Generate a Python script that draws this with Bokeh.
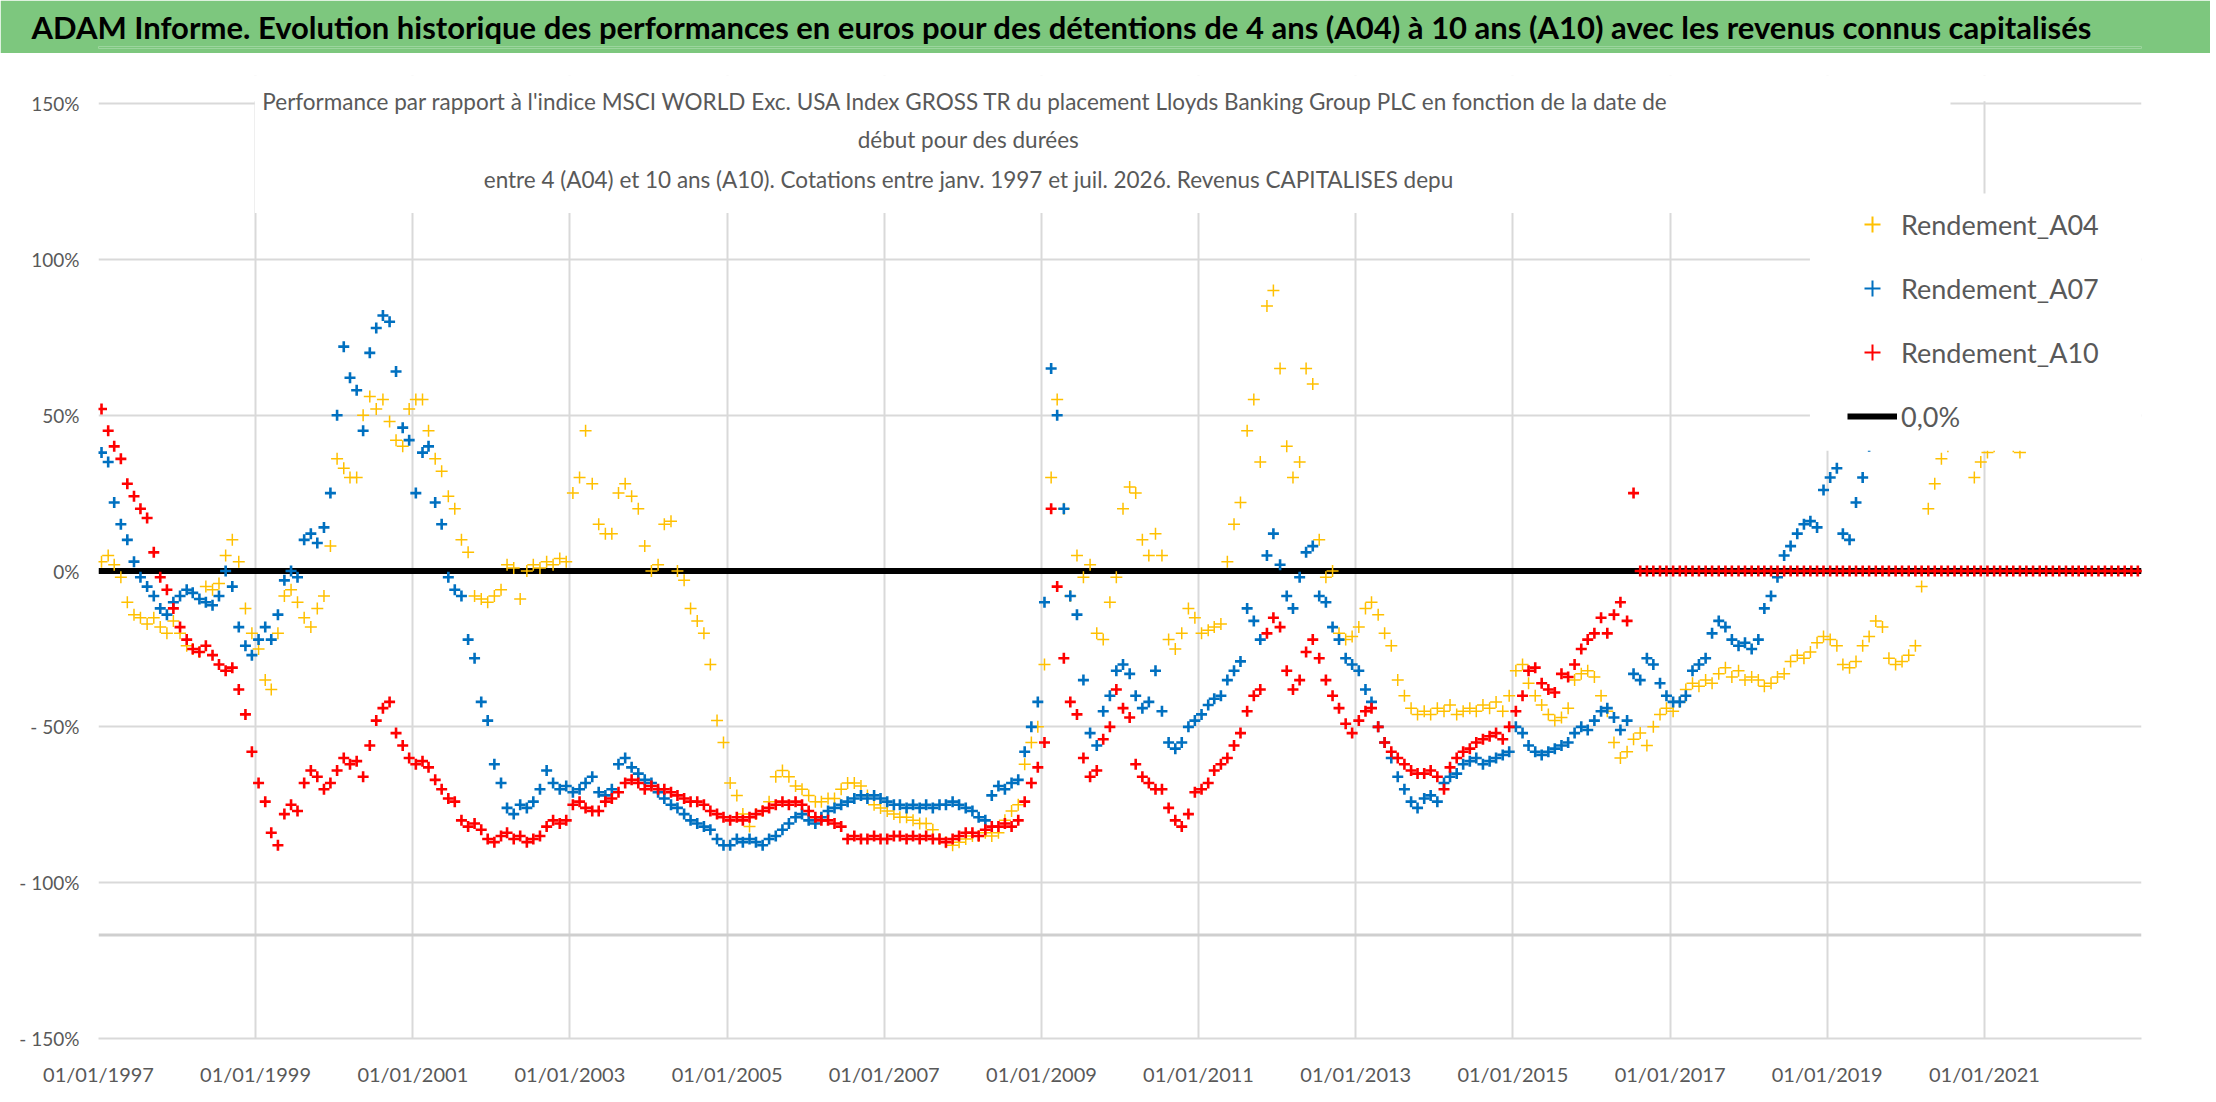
import pandas as pd
from bokeh.plotting import figure
from bokeh.layouts import column
from bokeh.models import (Range1d, FixedTicker, DatetimeTickFormatter, Legend, LegendItem,
                          Label, BoxAnnotation, Span, Title)
from bokeh.embed import file_html
from bokeh.resources import INLINE

TITLE = ("ADAM Informe. Evolution historique des performances en euros pour des détentions "
         "de 4 ans (A04) à 10 ans (A10) avec les revenus connus capitalisés")
SUBTITLE = [
    "Performance par rapport à l'indice MSCI WORLD Exc. USA Index GROSS TR  du placement "
    "Lloyds Banking Group PLC en fonction de la date de",
    "début pour des durées",
    "entre 4 (A04) et 10 ans (A10). Cotations entre janv. 1997 et juil. 2026. Revenus CAPITALISES depu",
]
SERIES_NAMES = ["Rendement_A04", "Rendement_A07", "Rendement_A10"]
ZERO_NAME = "0,0%"
ZERO_LEVEL = 0.0

FIRST_MONTH = "1997-01-01"   # one value per month, starting here
X_START, X_END = "1997-01-01", "2023-01-01"
X_TICK_YEARS = [1997, 1999, 2001, 2003, 2005, 2007, 2009, 2011, 2013, 2015, 2017, 2019, 2021]
Y_TICKS = [-150, -100, -50, 0, 50, 100, 150]
Y_TICK_LABELS = ["- 150%", "- 100%", "- 50%", "0%", "50%", "100%", "150%"]

# monthly readings, in %
A04 = [
    3, 5, 2, -2, -10, -14, -15, -17, -15, -18, -20, -16,            # 1997
    -20, -24, -25, -26, -5, -6, -4, 5, 10, 3, -12, -20,             # 1998
    -25, -35, -38, -20, -8, -6, -10, -15, -18, -12, -8, 8,          # 1999
    36, 33, 30, 30, 50, 56, 52, 55, 48, 42, 40, 52,                 # 2000
    55, 55, 45, 36, 32, 24, 20, 10, 6, -8, -9, -10,                 # 2001
    -8, -6, 2, 1, -9, 0, 2, 1, 3, 2, 4, 3,                          # 2002
    25, 30, 45, 28, 15, 12, 12, 25, 28, 24, 20, 8,                  # 2003
    0, 2, 15, 16, 0, -3, -12, -16, -20, -30, -48, -55,              # 2004
    -68, -72, -78, -82, -78, -77, -74, -66, -64, -66, -69, -70,     # 2005
    -72, -74, -74, -73, -73, -70, -68, -68, -69, -72, -75, -76,     # 2006
    -77, -78, -79, -79, -80, -81, -81, -83, -86, -87, -88, -87,     # 2007
    -86, -85, -85, -84, -85, -84, -80, -77, -75, -62, -55, -50,     # 2008
    -30, 30, 55, 20, -8, 5, -2, 2, -20, -22, -10, -2,               # 2009
    20, 27, 25, 10, 5, 12, 5, -22, -25, -20, -12, -15,              # 2010
    -20, -19, -18, -17, 3, 15, 22, 45, 55, 35, 85, 90,              # 2011
    65, 40, 30, 35, 65, 60, 10, -2, 0, -20, -22, -21,               # 2012
    -18, -12, -10, -14, -20, -24, -35, -40, -44, -46, -45, -46,     # 2013
    -44, -45, -43, -46, -45, -44, -45, -43, -44, -42, -45, -40,     # 2014
    -32, -30, -36, -40, -43, -46, -48, -47, -44, -35, -33, -32,     # 2015
    -34, -40, -45, -55, -60, -58, -54, -52, -56, -50, -46, -44,     # 2016
    -45, -42, -38, -36, -37, -35, -36, -33, -31, -34, -32, -35,     # 2017
    -34, -35, -37, -36, -34, -33, -29, -27, -28, -26, -23, -21,     # 2018
    -22, -24, -30, -31, -29, -24, -21, -16, -18, -28, -30, -29,     # 2019
    -27, -24, -5, 20, 28, 36, 40, 42, 45, 42, 30, 35,               # 2020
    38, 40, 42, 45, 40, 38, 44, 46, 48, 45, 47, 50,                 # 2021
    48, 46, 49, 47, 45, 48,                                         # 2022
]
A07 = [
    38, 35, 22, 15, 10, 3, -2, -5, -8, -12, -14, -10,               # 1997
    -8, -6, -7, -9, -10, -11, -8, 0, -5, -18, -24, -27,             # 1998
    -22, -18, -22, -14, -3, 0, -2, 10, 12, 9, 14, 25,               # 1999
    50, 72, 62, 58, 45, 70, 78, 82, 80, 64, 46, 42,                 # 2000
    25, 38, 40, 22, 15, -2, -6, -8, -22, -28, -42, -48,             # 2001
    -62, -68, -76, -78, -75, -76, -74, -70, -64, -68, -70, -69,     # 2002
    -71, -70, -68, -66, -71, -72, -70, -62, -60, -63, -65, -67,     # 2003
    -68, -71, -73, -75, -76, -78, -80, -81, -82, -83, -86, -88,     # 2004
    -88, -86, -87, -86, -87, -88, -86, -85, -83, -81, -79, -78,     # 2005
    -80, -81, -79, -77, -76, -75, -74, -73, -72, -73, -72, -73,     # 2006
    -74, -75, -75, -76, -75, -76, -75, -76, -75, -75, -74, -75,     # 2007
    -76, -77, -79, -80, -72, -69, -70, -68, -67, -58, -50, -42,     # 2008
    -10, 65, 50, 20, -8, -14, -35, -52, -56, -45, -40, -32,         # 2009
    -30, -33, -40, -44, -42, -32, -45, -55, -57, -55, -50, -48,     # 2010
    -46, -43, -41, -40, -35, -32, -29, -12, -16, -22, 5, 12,        # 2011
    2, -8, -12, -2, 6, 8, -8, -10, -18, -22, -28, -30,              # 2012
    -32, -38, -42, -50, -55, -60, -66, -70, -74, -76, -73, -72,     # 2013
    -74, -68, -66, -65, -62, -61, -60, -62, -61, -60, -59, -58,     # 2014
    -50, -52, -56, -58, -59, -58, -57, -56, -55, -52, -50, -51,     # 2015
    -48, -45, -44, -47, -51, -48, -33, -35, -28, -30, -36, -40,     # 2016
    -42, -42, -40, -32, -30, -28, -20, -16, -18, -22, -24, -23,     # 2017
    -25, -22, -12, -8, -2, 5, 8, 12, 15, 16, 14, 26,                # 2018
    30, 33, 12, 10, 22, 30, 40, 42,                                 # 2019
]
A10 = [
    52, 45, 40, 36, 28, 24, 20, 17, 6, -2, -6, -12,                 # 1997
    -18, -22, -25, -26, -24, -27, -30, -32, -31, -38, -46, -58,     # 1998
    -68, -74, -84, -88, -78, -75, -77, -68, -64, -66, -70, -68,     # 1999
    -64, -60, -62, -61, -66, -56, -48, -44, -42, -52, -56, -60,     # 2000
    -62, -61, -63, -67, -70, -73, -74, -80, -82, -81, -83, -86,     # 2001
    -87, -85, -84, -86, -85, -87, -86, -85, -82, -80, -81, -80,     # 2002
    -75, -74, -76, -77, -77, -74, -73, -71, -68, -67, -68, -70,     # 2003
    -69, -70, -70, -71, -72, -73, -74, -74, -75, -77, -78, -79,     # 2004
    -80, -79, -80, -79, -78, -77, -76, -75, -74, -75, -74, -75,     # 2005
    -77, -79, -80, -80, -81, -82, -86, -85, -86, -86, -85, -86,     # 2006
    -86, -85, -85, -86, -85, -86, -85, -86, -86, -87, -86, -85,     # 2007
    -84, -84, -85, -83, -82, -82, -81, -82, -80, -74, -68, -63,     # 2008
    -55, 20, -5, -28, -42, -46, -60, -66, -64, -54, -50, -38,       # 2009
    -44, -47, -62, -66, -68, -70, -70, -76, -80, -82, -78, -71,     # 2010
    -70, -68, -64, -62, -60, -56, -52, -45, -40, -38, -20, -15,     # 2011
    -18, -32, -38, -35, -26, -22, -28, -35, -40, -44, -49, -52,     # 2012
    -48, -45, -44, -50, -55, -58, -60, -62, -64, -65, -65, -64,     # 2013
    -66, -70, -63, -60, -58, -57, -55, -54, -53, -52, -54, -50,     # 2014
    -45, -40, -32, -31, -36, -38, -39, -33, -34, -30, -25, -22,     # 2015
    -20, -15, -20, -14, -10, -16, 25, 0, 0, 0, 0, 0,                # 2016
    0, 0, 0, 0, 0, 0, 0, 0, 0, 0, 0, 0,                             # 2017
    0, 0, 0, 0, 0, 0, 0, 0, 0, 0, 0, 0,                             # 2018
    0, 0, 0, 0, 0, 0, 0, 0, 0, 0, 0, 0,                             # 2019
    0, 0, 0, 0, 0, 0, 0, 0, 0, 0, 0, 0,                             # 2020
    0, 0, 0, 0, 0, 0, 0, 0, 0, 0, 0, 0,                             # 2021
    0, 0, 0, 0, 0, 0, 0, 0, 0, 0, 0, 0,                             # 2022
    0,                                                              # 2023
]

GREEN = "#7dc77e"
GRID = "#d9d9d9"
TEXT = "#595959"
COLORS = ["#ffc000", "#0070c0", "#ff0000"]
FONT = "Lato"
W = 2210


def months(values):
    return pd.date_range(FIRST_MONTH, periods=len(values), freq="MS") + pd.Timedelta(days=14)


def year_ms(y):
    base = pd.Timestamp(f"{int(y)}-01-01")
    return (base + pd.Timedelta(days=(y - int(y)) * 365.25)).value / 1e6


def strip(height, color):
    s = figure(width=W, height=height, toolbar_location=None, output_backend="svg",
               x_axis_location=None, y_axis_location=None, min_border=0,
               outline_line_color=None, background_fill_color=color, border_fill_color=color)
    s.grid.visible = False
    return s


# --- green header band; its frame is aligned on the chart's frame, so the
# title sits in the header's "above" panel (not clipped by the frame)
head = strip(53, GREEN)
head.min_border_top = 46
head.min_border_bottom = 5
head.add_layout(Title(text=TITLE, align="left", offset=-67, standoff=0, vertical_align="middle",
                      text_font=FONT, text_font_style="bold", text_font_size="31px",
                      text_color="black"), "above")

rule = strip(3, GRID)

# --- main chart
p = figure(width=W, height=1036, x_axis_type="datetime",
           x_range=Range1d(pd.Timestamp(X_START), pd.Timestamp(X_END)),
           y_range=Range1d(-150, 159),
           toolbar_location=None, output_backend="svg", title=None,
           min_border_left=98, min_border_right=69, min_border_top=13, min_border_bottom=60,
           outline_line_color=None, background_fill_color="white", border_fill_color="white")

xt = FixedTicker(ticks=[pd.Timestamp(f"{y}-01-01").value / 1e6 for y in X_TICK_YEARS])
p.xaxis.ticker = xt
p.xgrid.ticker = xt
p.xaxis.formatter = DatetimeTickFormatter(days="%d/%m/%Y", months="%d/%m/%Y", years="%d/%m/%Y")
p.yaxis.ticker = FixedTicker(ticks=Y_TICKS)
p.yaxis.major_label_overrides = dict(zip(Y_TICKS, Y_TICK_LABELS))

p.grid.grid_line_color = GRID
p.grid.grid_line_width = 2
p.axis.major_tick_line_color = None
p.axis.minor_tick_line_color = None
p.yaxis.axis_line_color = None
p.xaxis.axis_line_color = GRID
p.xaxis.axis_line_width = 2
p.axis.major_label_text_font = FONT
p.axis.major_label_text_color = TEXT
p.xaxis.major_label_text_font_size = "20px"
p.yaxis.major_label_text_font_size = "19px"
p.yaxis.major_label_standoff = 13
p.xaxis.major_label_standoff = 17

zero_r = p.line([pd.Timestamp(X_START), pd.Timestamp(X_END)], [ZERO_LEVEL, ZERO_LEVEL],
                line_color="black", line_width=6)
series = [(A04, 12, 1.5), (A07, 11, 2.6), (A10, 11, 2.6)]
for (vals, size, lw), c in zip(series, COLORS):
    p.scatter(months(vals), vals, marker="cross", size=size, line_color=c, line_width=lw)

# hidden one-point copies with small crosses, used only as legend swatches
swatches = []
for (vals, _, _), c in zip(series, COLORS):
    r = p.scatter(months(vals)[:1], vals[:1], marker="cross", size=8, line_color=c, line_width=2)
    r.visible = False
    swatches.append(r)

p.add_layout(Span(location=-116.8, dimension="width", line_color="#cfcfcf", line_width=3))

# white boxes behind the chart title and the legend (they hide the gridlines there)
x0, x1 = year_ms(1997), year_ms(2023)
p.add_layout(BoxAnnotation(left=x0, right=x1, bottom=150.7, top=159, fill_color="white",
                           fill_alpha=1, line_alpha=0))
p.add_layout(BoxAnnotation(left=year_ms(1998.99), right=year_ms(2020.57), bottom=114.9, top=159,
                           fill_color="white", fill_alpha=1, line_alpha=0))
p.add_layout(BoxAnnotation(left=year_ms(2018.78), right=x1, bottom=38.6, top=121.1,
                           fill_color="white", fill_alpha=1, line_alpha=0))

for txt, sy in zip(SUBTITLE, [937, 899, 859]):
    p.add_layout(Label(x=870, y=sy, x_units="screen", y_units="screen", text=txt,
                       text_align="center", text_baseline="middle", text_font=FONT,
                       text_font_size="22.5px", text_color=TEXT))

legend = Legend(items=[LegendItem(label=n, renderers=[r]) for n, r in zip(SERIES_NAMES, swatches)]
                + [LegendItem(label=ZERO_NAME, renderers=[zero_r])],
                location=(1749, 602), glyph_width=50, glyph_height=40, label_standoff=4,
                spacing=24, padding=0, background_fill_alpha=0, border_line_color=None,
                inactive_fill_alpha=0,
                label_text_font=FONT, label_text_font_size="27px", label_text_color=TEXT)
p.add_layout(legend)

layout = column(head, rule, p, spacing=3)
open("out.html", "w").write(file_html(layout, INLINE))
